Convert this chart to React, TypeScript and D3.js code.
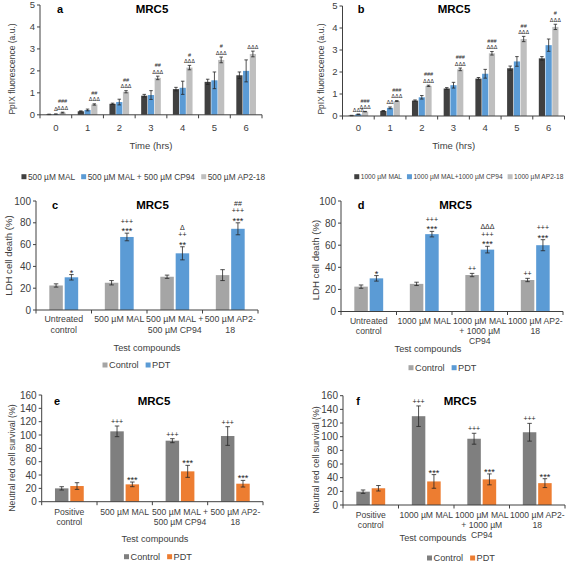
import React from 'react';
import * as d3 from 'd3';

const FONT = "'Liberation Sans', Arial, Helvetica, sans-serif";
const TXT = '#404040';
const AXIS = '#404040';

// ---------- Panel a (500 µM) ----------
const timeLabels = ['0', '1', '2', '3', '4', '5', '6'];
const aNames = ['500 µM MAL', '500 µM MAL + 500 µM CP94', '500 µM AP2-18'];
const aMal = [0.02, 0.16, 0.5, 0.87, 1.17, 1.5, 1.8];
const aMalErr = [0.01, 0.02, 0.03, 0.06, 0.08, 0.12, 0.15];
const aCp = [0.03, 0.22, 0.58, 0.9, 1.23, 1.57, 2.0];
const aCpErr = [0.01, 0.04, 0.13, 0.2, 0.3, 0.38, 0.5];
const aAp = [0.1, 0.47, 1.05, 1.68, 2.15, 2.5, 2.77];
const aApErr = [0.02, 0.03, 0.05, 0.08, 0.1, 0.13, 0.13];
const aMalSig: string[][] = [[], [], [], [], [], [], []];
const aCpSig: string[][] = [['Δ'], [], [], [], [], [], []];
const aApSig: string[][] = [['ΔΔΔ', '###'], ['ΔΔΔ', '##'], ['ΔΔΔ', '##'], ['ΔΔΔ', '##'], ['ΔΔΔ', '#'], ['ΔΔΔ', '#'], ['ΔΔΔ']];

// ---------- Panel b (1000 µM) ----------
const bNames = ['1000 µM MAL', '1000 µM MAL+1000 µM CP94', '1000 µM AP2-18'];
const bMal = [0.02, 0.23, 0.7, 1.25, 1.7, 2.17, 2.62];
const bMalErr = [0.01, 0.02, 0.03, 0.04, 0.05, 0.1, 0.08];
const bCp = [0.08, 0.37, 0.85, 1.4, 1.92, 2.48, 3.22];
const bCpErr = [0.01, 0.04, 0.08, 0.13, 0.2, 0.22, 0.28];
const bAp = [0.2, 0.68, 1.37, 2.12, 2.85, 3.5, 4.05];
const bApErr = [0.01, 0.02, 0.03, 0.06, 0.08, 0.12, 0.12];
const bMalSig: string[][] = [[], [], [], [], [], [], []];
const bCpSig: string[][] = [['ΔΔΔ'], ['ΔΔ'], [], [], [], [], []];
const bApSig: string[][] = [['ΔΔΔ', '###'], ['ΔΔΔ', '###'], ['ΔΔΔ', '###'], ['ΔΔΔ', '###'], ['ΔΔΔ', '###'], ['ΔΔΔ', '##'], ['ΔΔΔ', '#']];

// ---------- Panel c (LDH, 500 µM) ----------
const groupNames = ['Control', 'PDT'];
const cCats = [['Untreated', 'control'], ['500 µM MAL'], ['500 µM MAL +', '500 µM CP94'], ['500 µM AP2-', '18']];
const cControl = [22.5, 25, 30.5, 32];
const cControlErr = [1.5, 2, 1.5, 5];
const cPdt = [30, 67, 52, 74.5];
const cPdtErr = [2.5, 3.5, 6, 5.5];
const cControlSig: string[][] = [[], [], [], []];
const cPdtSig: string[][] = [['*'], ['***', '+++'], ['**', '++', 'Δ'], ['***', '+++', '##']];

// ---------- Panel d (LDH, 1000 µM) ----------
const dCats = [['Untreated', 'control'], ['1000 µM MAL'], ['1000 µM MAL', '+ 1000 µM', 'CP94'], ['1000 µM AP2-', '18']];
const dControl = [22.5, 25, 33, 28.5];
const dControlErr = [1.5, 1.5, 1.5, 1.5];
const dPdt = [30, 70, 56, 60];
const dPdtErr = [2.5, 2.5, 3, 5];
const dControlSig: string[][] = [[], [], ['++'], ['++']];
const dPdtSig: string[][] = [['*'], ['***', '+++'], ['***', '+++', 'ΔΔΔ'], ['***', '+++']];

// ---------- Panel e (Neutral red, 500 µM) ----------
const eCats = [['Positive', 'control'], ['500 µM MAL'], ['500 µM MAL +', '500 µM CP94'], ['500 µM AP2-', '18']];
const eControl = [20, 105.5, 91.5, 98.5];
const eControlErr = [2.5, 8, 3, 14];
const ePdt = [23.5, 26, 45.5, 27];
const ePdtErr = [5, 3.5, 9, 5];
const eControlSig: string[][] = [[], ['+++'], ['+++'], ['+++']];
const ePdtSig: string[][] = [[], ['***'], ['***'], ['***']];

// ---------- Panel f (Neutral red, 1000 µM) ----------
const fCats = [['Positive', 'control'], ['1000 µM MAL'], ['1000 µM MAL', '+ 1000 µM', 'CP94'], ['1000 µM AP2-', '18']];
const fControl = [19.5, 130, 97, 106.5];
const fControlErr = [2.5, 15, 8, 13];
const fPdt = [24.5, 34.5, 37.5, 32];
const fPdtErr = [4, 10, 8, 6.5];
const fControlSig: string[][] = [[], ['+++'], ['+++'], ['+++']];
const fPdtSig: string[][] = [[], ['***'], ['***'], ['***']];

type Series = { name: string; values: number[]; errs: number[]; sigs: string[][]; color: string };

let measureCanvas: HTMLCanvasElement | null = null;
function textWidth(text: string, size: number): number {
  if (typeof document === 'undefined') return text.length * size * 0.5;
  if (!measureCanvas) measureCanvas = document.createElement('canvas');
  const ctx = measureCanvas.getContext('2d');
  if (!ctx) return text.length * size * 0.5;
  ctx.font = `${size}px ${FONT}`;
  return ctx.measureText(text).width;
}

type PanelProps = {
  x0: number; x1: number; y0: number; yTop: number; max: number; step: number;
  cats: string[][]; series: Series[];
  band: [number, number]; innerPad: number;
  tickFont: number; catFont: number; catY: number; catLineH: number;
  yTitle: string; yTitleX: number; yTitleY: number; yTitleFont: number;
  xTitle: string; xTitleX: number; xTitleY: number; xTitleFont: number;
  letter: string; letterX: number; title: string; titleX: number; titleY: number;
  legendCx: number; legendY: number; legendFont: number; legendGap: number;
  sigFont: number; starScale: number; sigGap: number; sigLineH: number; capW: number;
};

function Panel(p: PanelProps) {
  const catIdx = p.cats.map((_, i) => String(i));
  const x = d3.scaleBand<string>().domain(catIdx).range([p.x0, p.x1]).padding(0);
  const bw = x.bandwidth();
  const xi = d3.scaleBand<string>().domain(p.series.map((_, i) => String(i)))
    .range([bw * p.band[0], bw * p.band[1]]).paddingInner(p.innerPad);
  const y = d3.scaleLinear().domain([0, p.max]).range([p.y0, p.yTop]);
  const ticks = d3.range(0, p.max + p.step / 2, p.step);

  // legend layout
  const sq = 5;
  const items = p.series.map((s) => ({ s, w: sq + 1.5 + textWidth(s.name, p.legendFont) }));
  const total = items.reduce((a, b) => a + b.w, 0) + p.legendGap * (items.length - 1);
  let lx = p.legendCx - total / 2;
  const legendItems = items.map((it) => {
    const pos = lx;
    lx += it.w + p.legendGap;
    return { ...it, pos };
  });

  return (
    <g fontFamily={FONT}>
      {/* bars */}
      {p.series.map((s, si) => (
        <g key={si}>
          {s.values.map((v, ci) => {
            const bx = (x(String(ci)) as number) + (xi(String(si)) as number);
            const w = xi.bandwidth();
            const cx = bx + w / 2;
            const e = s.errs[ci];
            const top = y(v + e);
            const bot = y(Math.max(0, v - e));
            return (
              <g key={ci}>
                <rect x={bx} y={y(v)} width={w} height={p.y0 - y(v)} fill={s.color} />
                <line x1={cx} x2={cx} y1={top} y2={bot} stroke="#262626" strokeWidth={0.8} />
                <line x1={cx - p.capW / 2} x2={cx + p.capW / 2} y1={top} y2={top} stroke="#262626" strokeWidth={0.8} />
                <line x1={cx - p.capW / 2} x2={cx + p.capW / 2} y1={bot} y2={bot} stroke="#262626" strokeWidth={0.8} />
                {s.sigs[ci].map((t, k) => {
                  const star = t.startsWith('*');
                  const fs = star ? p.sigFont * p.starScale : p.sigFont;
                  const center = top - p.sigGap - k * p.sigLineH;
                  const base = center + (star ? 0.6 : 0.36) * fs;
                  return (
                    <text key={k} x={cx} y={base} textAnchor="middle" fontSize={fs} fill="#262626">{t}</text>
                  );
                })}
              </g>
            );
          })}
        </g>
      ))}
      {/* y axis */}
      <line x1={p.x0} x2={p.x0} y1={p.y0} y2={y(p.max)} stroke={AXIS} strokeWidth={1} />
      {ticks.map((t) => (
        <g key={t}>
          <line x1={p.x0 - 3} x2={p.x0} y1={y(t)} y2={y(t)} stroke={AXIS} strokeWidth={1} />
          <text x={p.x0 - 5} y={y(t) + p.tickFont * 0.35} textAnchor="end" fontSize={p.tickFont} fill={TXT}>{t}</text>
        </g>
      ))}
      {/* x axis */}
      <line x1={p.x0} x2={p.x1} y1={p.y0} y2={p.y0} stroke={AXIS} strokeWidth={1} />
      {d3.range(p.cats.length + 1).map((i) => (
        <line key={i} x1={p.x0 + i * bw} x2={p.x0 + i * bw} y1={p.y0} y2={p.y0 + 3.5} stroke={AXIS} strokeWidth={1} />
      ))}
      {p.cats.map((lines, i) => (
        <text key={i} textAnchor="middle" fontSize={p.catFont} fill={TXT}>
          {lines.map((l, k) => (
            <tspan key={k} x={(x(String(i)) as number) + bw / 2} y={p.catY + k * p.catLineH + p.catFont * 0.35}>{l}</tspan>
          ))}
        </text>
      ))}
      {/* titles */}
      <text transform={`translate(${p.yTitleX},${p.yTitleY}) rotate(-90)`} y={p.yTitleFont * 0.35} textAnchor="middle" fontSize={p.yTitleFont} fill={TXT}>{p.yTitle}</text>
      <text x={p.xTitleX} y={p.xTitleY + p.xTitleFont * 0.35} textAnchor="middle" fontSize={p.xTitleFont} fill={TXT}>{p.xTitle}</text>
      <text x={p.letterX} y={p.titleY + 4} textAnchor="middle" fontSize={11} fontWeight="bold" fill="#000">{p.letter}</text>
      <text x={p.titleX} y={p.titleY + 4} textAnchor="middle" fontSize={11.5} fontWeight="bold" fill="#000">{p.title}</text>
      {/* legend */}
      {legendItems.map((it, i) => (
        <g key={i}>
          <rect x={it.pos} y={p.legendY - sq / 2} width={sq} height={sq} fill={it.s.color} />
          <text x={it.pos + sq + 1.5} y={p.legendY + p.legendFont * 0.35} fontSize={p.legendFont} fill={TXT}>{it.s.name}</text>
        </g>
      ))}
    </g>
  );
}

const C_DARK = '#404040';
const C_BLUE = '#5B9BD5';
const C_LGRAY = '#BFBFBF';
const C_MGRAY = '#A5A5A5';
const C_DGRAY = '#7F7F7F';
const C_ORANGE = '#ED7D31';

export default function App() {
  const timeCats = timeLabels.map((t) => [t]);
  const aSeries: Series[] = [
    { name: aNames[0], values: aMal, errs: aMalErr, sigs: aMalSig, color: C_DARK },
    { name: aNames[1], values: aCp, errs: aCpErr, sigs: aCpSig, color: C_BLUE },
    { name: aNames[2], values: aAp, errs: aApErr, sigs: aApSig, color: C_LGRAY },
  ];
  const bSeries: Series[] = [
    { name: bNames[0], values: bMal, errs: bMalErr, sigs: bMalSig, color: C_DARK },
    { name: bNames[1], values: bCp, errs: bCpErr, sigs: bCpSig, color: C_BLUE },
    { name: bNames[2], values: bAp, errs: bApErr, sigs: bApSig, color: C_LGRAY },
  ];
  const cSeries: Series[] = [
    { name: groupNames[0], values: cControl, errs: cControlErr, sigs: cControlSig, color: C_MGRAY },
    { name: groupNames[1], values: cPdt, errs: cPdtErr, sigs: cPdtSig, color: C_BLUE },
  ];
  const dSeries: Series[] = [
    { name: groupNames[0], values: dControl, errs: dControlErr, sigs: dControlSig, color: C_MGRAY },
    { name: groupNames[1], values: dPdt, errs: dPdtErr, sigs: dPdtSig, color: C_BLUE },
  ];
  const eSeries: Series[] = [
    { name: groupNames[0], values: eControl, errs: eControlErr, sigs: eControlSig, color: C_DGRAY },
    { name: groupNames[1], values: ePdt, errs: ePdtErr, sigs: ePdtSig, color: C_ORANGE },
  ];
  const fSeries: Series[] = [
    { name: groupNames[0], values: fControl, errs: fControlErr, sigs: fControlSig, color: C_DGRAY },
    { name: groupNames[1], values: fPdt, errs: fPdtErr, sigs: fPdtSig, color: C_ORANGE },
  ];

  const common3 = { band: [0.19, 0.81] as [number, number], innerPad: 0.08, sigFont: 5.5, starScale: 1.3, sigGap: 4.5, sigLineH: 6.3, capW: 3.5 };
  const common2 = { band: [0.24, 0.76] as [number, number], innerPad: 0.12, sigFont: 7, starScale: 1.3, sigGap: 4.5, sigLineH: 7.6, capW: 4.5 };

  return (
    <svg width={567} height={563} style={{ position: 'absolute', left: 0, top: 0, background: '#fff' }}>
      <rect width={567} height={563} fill="#fff" />
      <Panel {...common3} x0={40} x1={262} y0={114.8} yTop={5} max={5} step={1}
        cats={timeCats} series={aSeries} tickFont={9.5} catFont={9.5} catY={127.7} catLineH={10}
        yTitle="PpIX fluorescence (a.u.)" yTitleX={12} yTitleY={69} yTitleFont={8.5}
        xTitle="Time (hrs)" xTitleX={151} xTitleY={145.7} xTitleFont={9.5}
        letter="a" letterX={60} title="MRC5" titleX={152} titleY={9}
        legendCx={143.5} legendY={176.7} legendFont={8.3} legendGap={6} />
      <Panel {...common3} x0={342.5} x1={564.5} y0={116} yTop={6} max={5} step={1}
        cats={timeCats} series={bSeries} tickFont={9.5} catFont={9.5} catY={127.7} catLineH={10}
        yTitle="PpIX fluorescence (a.u.)" yTitleX={321} yTitleY={69} yTitleFont={8.5}
        xTitle="Time (hrs)" xTitleX={453.6} xTitleY={145.7} xTitleFont={9.5}
        letter="b" letterX={361} title="MRC5" titleX={454} titleY={9}
        legendCx={459} legendY={176.7} legendFont={6.6} legendGap={5} />
      <Panel {...common2} x0={36} x1={258} y0={310} yTop={201} max={100} step={20}
        cats={cCats} series={cSeries} tickFont={10} catFont={8.8} catY={319} catLineH={10.5}
        yTitle="LDH cell death (%)" yTitleX={9} yTitleY={255.5} yTitleFont={9.6}
        xTitle="Test compounds" xTitleX={147} xTitleY={347.7} xTitleFont={9.2}
        letter="c" letterX={55} title="MRC5" titleX={152.5} titleY={205}
        legendCx={136.5} legendY={365} legendFont={9.2} legendGap={7} />
      <Panel {...common2} x0={341} x1={563} y0={311.5} yTop={201} max={100} step={20}
        cats={dCats} series={dSeries} tickFont={10} catFont={8.6} catY={321} catLineH={10}
        yTitle="LDH cell death (%)" yTitleX={316} yTitleY={260} yTitleFont={9.6}
        xTitle="Test compounds" xTitleX={428} xTitleY={348.3} xTitleFont={9.2}
        letter="d" letterX={361} title="MRC5" titleX={455.5} titleY={205}
        legendCx={442.5} legendY={367.7} legendFont={9.2} legendGap={7} />
      <Panel {...common2} x0={41.7} x1={263} y0={501.7} yTop={395} max={160} step={20}
        cats={eCats} series={eSeries} tickFont={10} catFont={8.6} catY={511.7} catLineH={10}
        yTitle="Neutral red cell survival (%)" yTitleX={11.7} yTitleY={458} yTitleFont={8.8}
        xTitle="Test compounds" xTitleX={155} xTitleY={539} xTitleFont={9.2}
        letter="e" letterX={57} title="MRC5" titleX={154} titleY={400.7}
        legendCx={158} legendY={556.7} legendFont={9.2} legendGap={7} />
      <Panel {...common2} x0={343} x1={565} y0={505} yTop={395.7} max={160} step={20}
        cats={fCats} series={fSeries} tickFont={10} catFont={8.6} catY={515} catLineH={10}
        yTitle="Neutral red cell survival (%)" yTitleX={316} yTitleY={460} yTitleFont={8.8}
        xTitle="Test compounds" xTitleX={433} xTitleY={538} xTitleFont={9.2}
        letter="f" letterX={358} title="MRC5" titleX={460} titleY={400.7}
        legendCx={461} legendY={558} legendFont={9.2} legendGap={7} />
    </svg>
  );
}
